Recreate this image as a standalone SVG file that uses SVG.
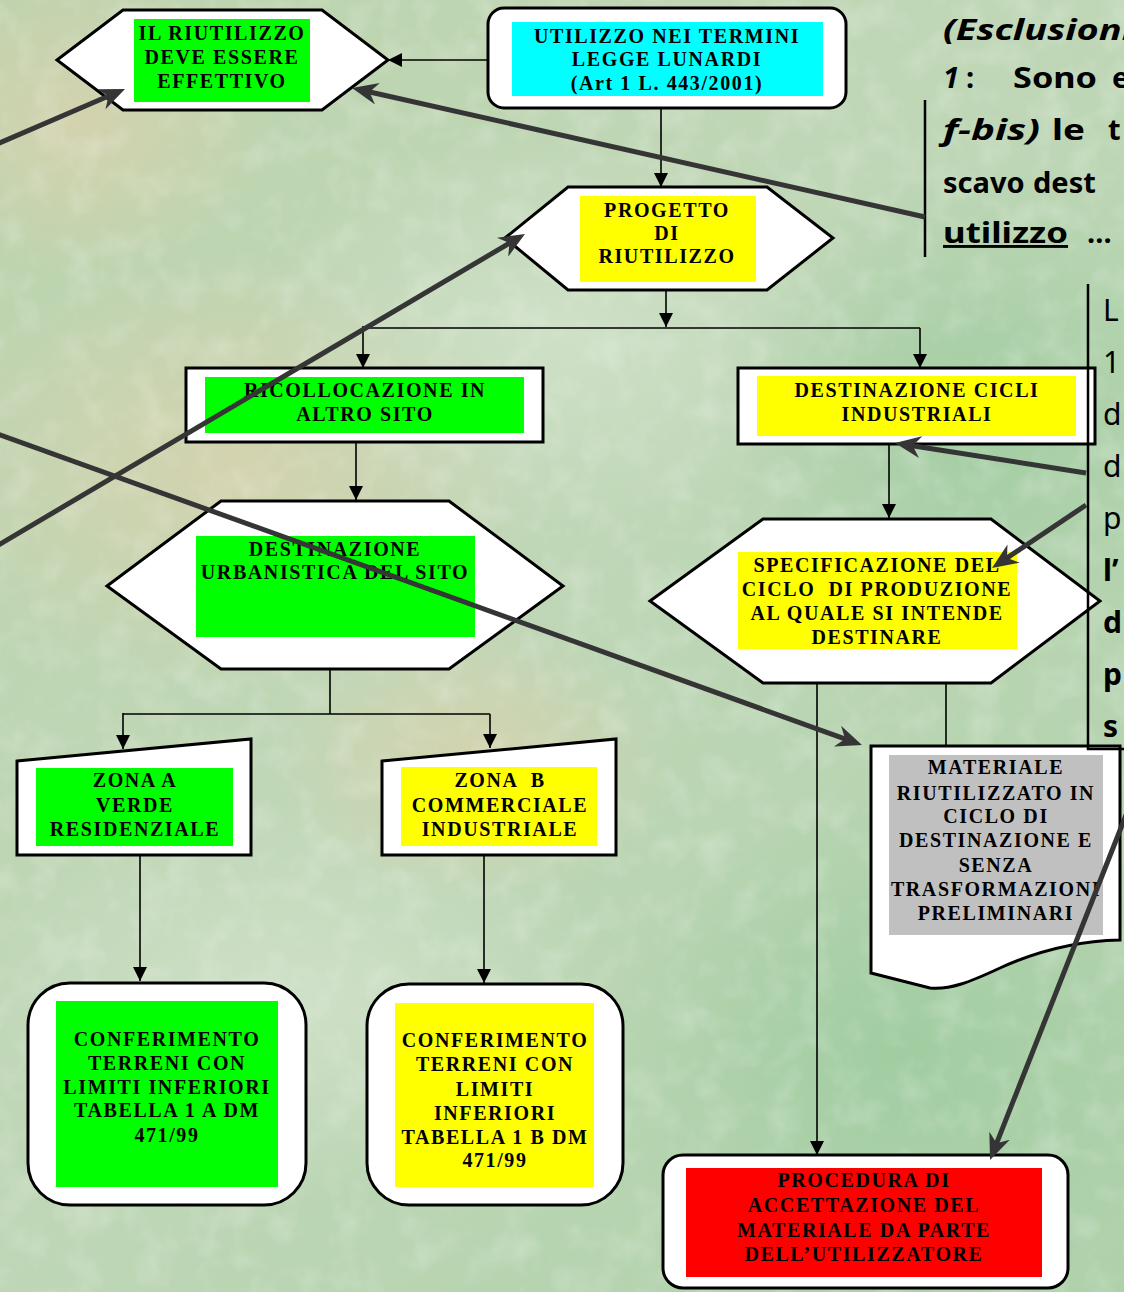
<svg xmlns="http://www.w3.org/2000/svg" width="1124" height="1292" viewBox="0 0 1124 1292">
<defs>
<style>
.node{fill:#fff;stroke:#000;stroke-width:3}
.t{font-family:"Liberation Serif","Times New Roman",serif;font-weight:bold;font-size:20px;letter-spacing:1.6px;text-anchor:middle;fill:#000}
.pre{white-space:pre}
.thin{fill:none;stroke:#000;stroke-width:1.6}
.arr{marker-end:url(#tri)}
.thick{fill:none;stroke:#353535;stroke-width:5;marker-end:url(#notch)}
.side{font-family:"Noto Sans","DejaVu Sans",sans-serif;font-weight:bold;font-size:29px;fill:#000}
.sideR{font-family:"Noto Sans","DejaVu Sans",sans-serif;font-size:30px;fill:#000}
.sideB{font-family:"Noto Sans","DejaVu Sans",sans-serif;font-weight:bold;font-size:30px;fill:#000}
.panel{fill:none;stroke:#000;stroke-width:2.5}
</style>
<marker id="tri" viewBox="0 0 14 14" refX="14" refY="7" markerWidth="14" markerHeight="14" markerUnits="userSpaceOnUse" orient="auto">
<path d="M0,0 L14,7 L0,14 z" fill="#000"/>
</marker>
<marker id="notch" viewBox="0 0 26 22" refX="10" refY="11" markerWidth="26" markerHeight="22" markerUnits="userSpaceOnUse" orient="auto">
<path d="M0,0 L26,11 L0,22 L8,11 z" fill="#353535"/>
</marker>
<linearGradient id="bg" x1="0" y1="0" x2="1" y2="1">
<stop offset="0" stop-color="#bcd3ad"/>
<stop offset="0.45" stop-color="#c0d7b7"/>
<stop offset="1" stop-color="#aed1aa"/>
</linearGradient>
<radialGradient id="beige" cx="0.5" cy="0.5" r="0.5">
<stop offset="0" stop-color="#d8d2ae" stop-opacity="0.85"/>
<stop offset="1" stop-color="#d8d2ae" stop-opacity="0"/>
</radialGradient>
<radialGradient id="light" cx="0.5" cy="0.5" r="0.5">
<stop offset="0" stop-color="#d3e3cc" stop-opacity="0.8"/>
<stop offset="1" stop-color="#d3e3cc" stop-opacity="0"/>
</radialGradient>
<radialGradient id="green" cx="0.5" cy="0.5" r="0.5">
<stop offset="0" stop-color="#9ccb9e" stop-opacity="0.8"/>
<stop offset="1" stop-color="#9ccb9e" stop-opacity="0"/>
</radialGradient>
<filter id="tex" x="0" y="0" width="100%" height="100%">
<feTurbulence type="fractalNoise" baseFrequency="0.03" numOctaves="3" seed="7"/>
<feColorMatrix type="matrix" values="0 0 0 0 1  0 0 0 0 1  0 0 0 0 1  0 0 0 -2 1.1"/>
</filter>
</defs>

<g id="background">
<rect x="0" y="0" width="1124" height="1292" fill="url(#bg)"/>
<ellipse cx="230" cy="470" rx="320" ry="220" fill="url(#beige)"/>
<ellipse cx="80" cy="120" rx="200" ry="160" fill="url(#beige)"/>
<ellipse cx="560" cy="330" rx="300" ry="200" fill="url(#light)"/>
<ellipse cx="980" cy="420" rx="260" ry="260" fill="url(#green)"/>
<ellipse cx="900" cy="1050" rx="300" ry="260" fill="url(#green)"/>
<ellipse cx="300" cy="1000" rx="330" ry="200" fill="url(#light)"/>
<ellipse cx="470" cy="760" rx="200" ry="140" fill="url(#beige)"/>
<rect x="0" y="0" width="1124" height="1292" filter="url(#tex)" opacity="0.22"/>
</g>

<g id="connectors-thin">
<path class="thin arr" d="M488,60 H388"/>
<path class="thin arr" d="M661,108 V187"/>
<path class="thin arr" d="M666,290 V327"/>
<path class="thin" d="M363,328 H920"/>
<path class="thin arr" d="M363,326 V368"/>
<path class="thin arr" d="M920,328 V368"/>
<path class="thin arr" d="M356,442 V500"/>
<path class="thin arr" d="M889,444 V518"/>
<path class="thin" d="M330,669 V714 M123,714 H490"/>
<path class="thin arr" d="M123,713 V749"/>
<path class="thin arr" d="M490,714 V748"/>
<path class="thin arr" d="M140,855 V981"/>
<path class="thin arr" d="M484,855 V983"/>
<path class="thin arr" d="M817,683 V1155"/>
<path class="thin" d="M946,683 V746"/>
</g>

<g id="n-riutilizzo-effettivo">
<polygon class="node" points="57,60 123,10 322,10 388,60 322,110 123,110"/>
<rect x="134" y="19" width="176" height="83" fill="#00ff00"/>
<text class="t" x="222" y="40">IL RIUTILIZZO</text>
<text class="t" x="222" y="64">DEVE ESSERE</text>
<text class="t" x="222" y="88">EFFETTIVO</text>
</g>

<g id="n-legge-lunardi">
<rect class="node" x="488" y="8" width="358" height="100" rx="16"/>
<rect x="512" y="22" width="311" height="74" fill="#00ffff"/>
<text class="t" x="667" y="43">UTILIZZO NEI TERMINI</text>
<text class="t" x="667" y="66">LEGGE LUNARDI</text>
<text class="t" x="667" y="90">(Art 1 L. 443/2001)</text>
</g>

<g id="n-progetto">
<polygon class="node" points="505,238 568,187 767,187 833,238 767,290 568,290"/>
<rect x="580" y="196" width="176" height="86" fill="#ffff00"/>
<text class="t" x="667" y="217">PROGETTO</text>
<text class="t" x="667" y="240">DI</text>
<text class="t" x="667" y="263">RIUTILIZZO</text>
</g>

<g id="n-ricollocazione">
<rect class="node" x="186" y="368" width="357" height="74"/>
<rect x="205" y="377" width="319" height="56" fill="#00ff00"/>
<text class="t" x="365" y="397">RICOLLOCAZIONE IN</text>
<text class="t" x="365" y="421">ALTRO SITO</text>
</g>

<g id="n-destinazione-cicli">
<rect class="node" x="738" y="368" width="357" height="76"/>
<rect x="757" y="376" width="319" height="60" fill="#ffff00"/>
<text class="t" x="917" y="397">DESTINAZIONE CICLI</text>
<text class="t" x="917" y="421">INDUSTRIALI</text>
</g>

<g id="n-destinazione-urbanistica">
<polygon class="node" points="107,586 221,501 449,501 563,586 449,669 221,669"/>
<rect x="196" y="536" width="279" height="101" fill="#00ff00"/>
<text class="t" x="335" y="556">DESTINAZIONE</text>
<text class="t" x="335" y="579">URBANISTICA DEL SITO</text>
</g>

<g id="n-specificazione">
<polygon class="node" points="650,601 763,519 991,519 1100,601 991,683 763,683"/>
<rect x="738" y="552" width="279" height="97" fill="#ffff00"/>
<text class="t" x="877" y="572">SPECIFICAZIONE DEL</text>
<text class="t pre" x="877" y="596">CICLO  DI PRODUZIONE</text>
<text class="t" x="877" y="620">AL QUALE SI INTENDE</text>
<text class="t" x="877" y="644">DESTINARE</text>
</g>

<g id="n-zona-a">
<polygon class="node" points="17,761 251,739 251,855 17,855"/>
<rect x="36" y="768" width="197" height="78" fill="#00ff00"/>
<text class="t" x="135" y="787">ZONA A</text>
<text class="t" x="135" y="812">VERDE</text>
<text class="t" x="135" y="836">RESIDENZIALE</text>
</g>

<g id="n-zona-b">
<polygon class="node" points="382,761 616,739 616,855 382,855"/>
<rect x="401" y="767" width="196" height="79" fill="#ffff00"/>
<text class="t pre" x="500" y="787">ZONA  B</text>
<text class="t" x="500" y="812">COMMERCIALE</text>
<text class="t" x="500" y="836">INDUSTRIALE</text>
</g>

<g id="n-materiale">
<path class="node" d="M871,746 H1120 V940 C1075,941 1035,952 1000,968 C970,982 950,990 930,988 L871,973 Z"/>
<rect x="889" y="755" width="214" height="180" fill="#c0c0c0"/>
<text class="t" x="996" y="774">MATERIALE</text>
<text class="t" x="996" y="800">RIUTILIZZATO IN</text>
<text class="t" x="996" y="823">CICLO DI</text>
<text class="t" x="996" y="847">DESTINAZIONE E</text>
<text class="t" x="996" y="872">SENZA</text>
<text class="t" x="996" y="896">TRASFORMAZIONI</text>
<text class="t" x="996" y="920">PRELIMINARI</text>
</g>

<g id="n-conferimento-a">
<rect class="node" x="28" y="983" width="278" height="222" rx="42"/>
<rect x="56" y="1001" width="222" height="186" fill="#00ff00"/>
<text class="t" x="167" y="1046">CONFERIMENTO</text>
<text class="t" x="167" y="1070">TERRENI CON</text>
<text class="t" x="167" y="1094">LIMITI INFERIORI</text>
<text class="t" x="167" y="1117">TABELLA 1 A DM</text>
<text class="t" x="167" y="1142">471/99</text>
</g>

<g id="n-conferimento-b">
<rect class="node" x="367" y="984" width="256" height="221" rx="42"/>
<rect x="395" y="1003" width="199" height="184" fill="#ffff00"/>
<text class="t" x="495" y="1047">CONFERIMENTO</text>
<text class="t" x="495" y="1071">TERRENI CON</text>
<text class="t" x="495" y="1096">LIMITI</text>
<text class="t" x="495" y="1120">INFERIORI</text>
<text class="t" x="495" y="1144">TABELLA 1 B DM</text>
<text class="t" x="495" y="1167">471/99</text>
</g>

<g id="n-procedura">
<rect class="node" x="663" y="1155" width="405" height="133" rx="20"/>
<rect x="686" y="1168" width="356" height="109" fill="#ff0000"/>
<text class="t" x="864" y="1187">PROCEDURA DI</text>
<text class="t" x="864" y="1212">ACCETTAZIONE DEL</text>
<text class="t" x="864" y="1237">MATERIALE DA PARTE</text>
<text class="t" x="864" y="1261">DELL’UTILIZZATORE</text>
</g>

<g id="panel-top">
<path class="panel" d="M925,100 V257"/>
<text class="side" x="943" y="40" font-style="italic" textLength="190" lengthAdjust="spacingAndGlyphs">(Esclusioni</text>
<text class="side" y="88"><tspan x="943" font-style="italic">1</tspan><tspan x="966">:</tspan><tspan x="1013" textLength="84" lengthAdjust="spacingAndGlyphs">Sono</tspan><tspan x="1112">e</tspan></text>
<text class="side" y="140"><tspan x="943" font-style="italic" textLength="97" lengthAdjust="spacingAndGlyphs">f-bis)</tspan><tspan x="1052" textLength="33" lengthAdjust="spacingAndGlyphs">le</tspan><tspan x="1108">t</tspan></text>
<text class="side" y="193"><tspan x="943">scavo</tspan><tspan x="1033">dest</tspan></text>
<text class="side" y="243"><tspan x="943" text-decoration="underline" textLength="125" lengthAdjust="spacingAndGlyphs">utilizzo</tspan><tspan x="1087">…</tspan></text>
</g>

<g id="panel-right">
<path class="panel" d="M1088,284 V749 H1126"/>
<text class="sideR" x="1103" y="321">L</text>
<text class="sideR" x="1103" y="373">1</text>
<text class="sideR" x="1103" y="425">d</text>
<text class="sideR" x="1103" y="477">d</text>
<text class="sideR" x="1103" y="529">p</text>
<text class="sideB" x="1103" y="581">l’</text>
<text class="sideB" x="1103" y="633">d</text>
<text class="sideB" x="1103" y="685">p</text>
<text class="sideB" x="1103" y="737">s</text>
</g>

<g id="connectors-thick">
<line class="thick" x1="-5" y1="145" x2="110.3" y2="95.3"/>
<line class="thick" x1="925" y1="217" x2="367.6" y2="91.5"/>
<line class="thick" x1="-5" y1="547" x2="511.2" y2="242.1"/>
<line class="thick" x1="-5" y1="433" x2="846.9" y2="739.6"/>
<line class="thick" x1="1086" y1="473" x2="910.8" y2="445.5"/>
<line class="thick" x1="1086" y1="505" x2="1005.3" y2="559.1"/>
<line class="thick" x1="1128" y1="810" x2="995.9" y2="1145.1"/>
</g>
</svg>
